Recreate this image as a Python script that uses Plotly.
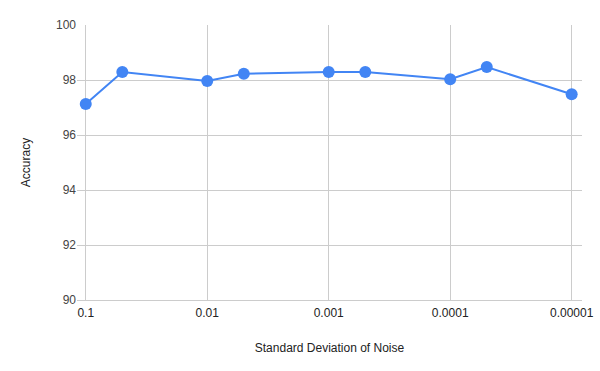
import plotly.graph_objects as go

noise_std = [0.1, 0.05, 0.01, 0.005, 0.001, 0.0005, 0.0001, 0.00005, 0.00001]
accuracy = [97.13, 98.29, 97.96, 98.23, 98.29, 98.29, 98.03, 98.47, 97.48]
x_tick_vals = [0.1, 0.01, 0.001, 0.0001, 0.00001]
x_tick_text = ["0.1", "0.01", "0.001", "0.0001", "0.00001"]
y_tick_vals = [90, 92, 94, 96, 98, 100]

fig = go.Figure()
fig.add_trace(go.Scatter(
    x=noise_std, y=accuracy, mode="lines+markers",
    line=dict(color="#4285F4", width=2),
    marker=dict(color="#4285F4", size=12),
    showlegend=False,
    cliponaxis=False,
))

font = "Liberation Sans, Arial, sans-serif"
fig.update_layout(
    width=600, height=371,
    margin=dict(l=77, r=18, t=25, b=71),
    paper_bgcolor="white", plot_bgcolor="white",
    font=dict(family=font, size=12, color="#222"),
    xaxis=dict(
        type="log", range=[-0.928, -5.085],
        tickvals=x_tick_vals, ticktext=x_tick_text,
        showgrid=True, gridcolor="#cccccc", gridwidth=1,
        showline=True, linecolor="#cccccc", linewidth=1,
        zeroline=False, ticks="", automargin=False,
        ticklabelstandoff=2,
        tickfont=dict(size=12, color="#222"),
        title=dict(text="Standard Deviation of Noise", font=dict(size=12, color="#222"), standoff=24),
    ),
    yaxis=dict(
        range=[90, 100], tickvals=y_tick_vals,
        showgrid=True, gridcolor="#cccccc", gridwidth=1,
        zeroline=False, ticks="", showline=False, automargin=False,
        tickfont=dict(size=12, color="#444"),
        title=dict(text="Accuracy", font=dict(size=12, color="#222"), standoff=22),
    ),
)

fig.write_html("out.html", config={"displayModeBar": False},
               post_script="document.body.style.margin='0';")
